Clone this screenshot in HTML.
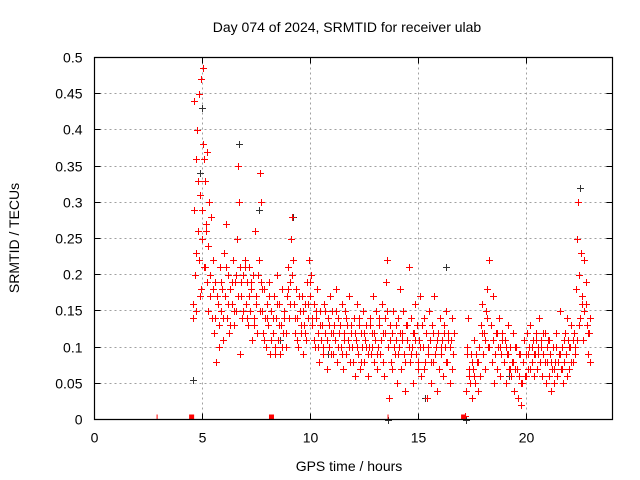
<!DOCTYPE html>
<html><head><meta charset="utf-8"><style>
html,body{margin:0;padding:0;background:#fff}
svg{display:block;font-family:"Liberation Sans",sans-serif}
</style></head><body>
<svg id="chart" width="640" height="480" xmlns="http://www.w3.org/2000/svg">
<text x="347" y="32" font-size="14" text-anchor="middle">Day 074 of 2024, SRMTID for receiver ulab</text>
<text x="349" y="471" font-size="14" text-anchor="middle">GPS time / hours</text>
<text transform="translate(19,238) rotate(-90)" font-size="14" text-anchor="middle">SRMTID / TECUs</text>
<g id="grid"></g>
<g id="blk"></g>
<g id="red"></g>
<g id="axes"></g>
<path d="M94.5 57.5H612.5V419.5H94.5Z" fill="none" stroke="#000" stroke-width="1.2"/>
</svg>
<script>
const xTicks=[0,5,10,15,20];
const yTicks=[0,0.05,0.1,0.15,0.2,0.25,0.3,0.35,0.4,0.45,0.5];
const yTickLabels=["0","0.05","0.1","0.15","0.2","0.25","0.3","0.35","0.4","0.45","0.5"];
const redHours=[4.55,4.6,4.62,4.65,4.7,4.72,4.75,4.8,4.82,4.85,4.9,4.92,4.95,5.0,5.02,5.05,5.08,5.1,5.12,5.15,5.2,5.22,5.25,5.3,5.35,5.4,5.45,5.5,5.55,5.6,5.65,5.7,5.75,5.8,5.85,5.9,5.95,6.0,6.05,6.1,6.15,6.2,6.25,6.3,6.35,6.4,6.45,6.5,6.55,6.6,6.65,6.7,6.72,6.75,6.8,6.85,6.9,6.95,7.0,7.05,7.1,7.15,7.2,7.25,7.3,7.35,7.4,7.45,7.5,7.55,7.6,7.65,7.7,7.72,7.75,7.8,7.85,7.9,7.95,8.0,8.05,8.1,8.15,8.2,8.25,8.3,8.35,8.4,8.45,8.5,8.55,8.6,8.65,8.7,8.75,8.8,8.85,8.9,8.95,9.0,9.05,9.1,9.15,9.2,9.25,9.3,9.35,9.4,9.45,9.5,9.55,9.6,9.65,9.7,9.75,9.8,9.85,9.9,9.95,10.0,10.05,10.1,10.15,10.2,10.25,10.3,10.35,10.4,10.45,10.5,10.55,10.6,10.65,10.7,10.75,10.8,10.85,10.9,10.95,11.0,11.05,11.1,11.15,11.2,11.25,11.3,11.35,11.4,11.45,11.5,11.55,11.6,11.65,11.7,11.75,11.8,11.85,11.9,11.95,12.0,12.05,12.1,12.15,12.2,12.25,12.3,12.35,12.4,12.45,12.5,12.55,12.6,12.65,12.7,12.75,12.8,12.85,12.9,12.95,13.0,13.05,13.1,13.15,13.2,13.25,13.3,13.35,13.4,13.45,13.5,13.55,13.6,13.65,13.7,13.75,13.8,13.85,13.9,13.95,14.0,14.05,14.1,14.15,14.2,14.25,14.3,14.35,14.4,14.45,14.5,14.55,14.6,14.65,14.7,14.75,14.8,14.85,14.9,14.95,15.0,15.05,15.1,15.15,15.2,15.25,15.3,15.35,15.4,15.45,15.5,15.55,15.6,15.65,15.7,15.75,15.8,15.85,15.9,15.95,16.0,16.05,16.1,16.15,16.2,16.25,16.3,16.35,16.4,16.45,16.5,16.55,16.6,16.65,17.15,17.2,17.25,17.3,17.35,17.4,17.45,17.5,17.55,17.6,17.65,17.7,17.75,17.8,17.85,17.9,17.95,18.0,18.05,18.1,18.15,18.2,18.25,18.3,18.35,18.4,18.45,18.5,18.55,18.6,18.65,18.7,18.75,18.8,18.85,18.9,18.95,19.0,19.05,19.1,19.15,19.2,19.25,19.3,19.35,19.4,19.45,19.5,19.55,19.6,19.65,19.7,19.75,19.8,19.85,19.9,19.95,20.0,20.05,20.1,20.15,20.2,20.25,20.3,20.35,20.4,20.45,20.5,20.55,20.6,20.65,20.7,20.75,20.8,20.85,20.9,20.95,21.0,21.05,21.1,21.15,21.2,21.25,21.3,21.35,21.4,21.45,21.5,21.55,21.6,21.65,21.7,21.75,21.8,21.85,21.9,21.95,22.0,22.05,22.1,22.15,22.2,22.25,22.3,22.35,22.4,22.45,22.5,22.55,22.6,22.65,22.7,22.75,22.8,22.85,22.9,22.95];
const redValues=[.16,.29,.44,.20,.36,.15,.40,.26,.45,.22,.31,.18,.47,.25,.38,.485,.36,.21,.33,.27,.19,.37,.24,.30,.17,.28,.14,.22,.12,.19,.08,.16,.13,.21,.15,.18,.11,.23,.17,.27,.14,.20,.12,.18,.16,.22,.13,.19,.15,.25,.35,.30,.21,.09,.17,.14,.20,.22,.16,.19,.13,.21,.15,.18,.11,.20,.14,.26,.17,.12,.22,.34,.30,.19,.15,.12,.18,.14,.10,.16,.13,.19,.09,.15,.12,.17,.10,.14,.20,.11,.16,.09,.13,.18,.12,.15,.10,.17,.21,.14,.19,.25,.28,.22,.16,.12,.18,.14,.10,.15,.12,.17,.09,.13,.16,.11,.19,.14,.22,.17,.20,.13,.16,.10,.14,.18,.12,.08,.15,.11,.13,.09,.16,.12,.07,.14,.10,.17,.12,.15,.09,.13,.11,.18,.08,.14,.12,.10,.16,.07,.12,.15,.09,.13,.11,.17,.08,.12,.10,.14,.06,.11,.16,.09,.13,.07,.12,.10,.15,.08,.11,.13,.06,.10,.14,.09,.12,.17,.08,.11,.15,.07,.10,.13,.09,.16,.12,.06,.14,.19,.22,.10,.03,.13,.08,.12,.15,.09,.11,.05,.14,.10,.18,.07,.12,.15,.09,.04,.13,.11,.21,.08,.14,.10,.05,.12,.16,.09,.13,.07,.11,.17,.06,.10,.14,.08,.12,.03,.09,.15,.11,.05,.13,.08,.17,.10,.04,.12,.07,.14,.09,.11,.06,.13,.10,.15,.08,.12,.05,.11,.14,.09,.12,.005,.04,.10,.14,.07,.05,.09,.03,.07,.11,.05,.08,.04,.10,.06,.13,.16,.09,.12,.07,.15,.18,.10,.22,.13,.08,.11,.05,.09,.12,.07,.10,.14,.06,.09,.12,.08,.11,.05,.09,.13,.07,.10,.06,.08,.12,.04,.07,.10,.03,.06,.09,.02,.05,.08,.11,.06,.09,.12,.07,.10,.13,.08,.11,.06,.09,.12,.07,.10,.14,.08,.11,.06,.09,.12,.05,.08,.11,.06,.09,.04,.07,.10,.05,.08,.12,.06,.09,.15,.07,.10,.05,.08,.12,.09,.14,.11,.07,.10,.13,.08,.12,.09,.18,.25,.30,.20,.14,.23,.17,.11,.15,.19,.13,.09,.12,.08];
const redHours2=[4.58,4.68,4.78,4.88,4.98,5.07,5.17,5.27,5.37,5.47,5.57,5.67,5.77,5.87,5.97,6.07,6.17,6.27,6.37,6.47,6.57,6.67,6.77,6.87,6.97,7.07,7.17,7.27,7.37,7.47,7.57,7.67,7.77,7.87,7.97,8.07,8.17,8.27,8.37,8.47,8.57,8.67,8.77,8.87,8.97,9.07,9.17,9.27,9.37,9.47,9.57,9.67,9.77,9.87,9.97,10.07,10.17,10.27,10.37,10.47,10.57,10.67,10.77,10.87,10.97,11.07,11.17,11.27,11.37,11.47,11.57,11.67,11.77,11.87,11.97,12.07,12.17,12.27,12.37,12.47,12.57,12.67,12.77,12.87,12.97,13.07,13.17,13.27,13.37,13.47,13.57,13.67,13.77,13.87,13.97,14.07,14.17,14.27,14.37,14.47,14.57,14.67,14.77,14.87,14.97,15.07,15.17,15.27,15.37,15.47,15.57,15.67,15.77,15.87,15.97,16.07,16.17,16.27,16.37,16.47,16.57,17.27,17.37,17.47,17.57,17.67,17.77,17.87,17.97,18.07,18.17,18.27,18.37,18.47,18.57,18.67,18.77,18.87,18.97,19.07,19.17,19.27,19.37,19.47,19.57,19.67,19.77,19.87,19.97,20.07,20.17,20.27,20.37,20.47,20.57,20.67,20.77,20.87,20.97,21.07,21.17,21.27,21.37,21.47,21.57,21.67,21.77,21.87,21.97,22.07,22.17,22.27,22.37,22.47,22.57,22.67,22.77,22.87,22.97];
const redValues2=[.14,.23,.33,.17,.29,.21,.26,.15,.20,.18,.14,.17,.10,.19,.14,.21,.16,.13,.19,.15,.20,.17,.19,.15,.21,.14,.17,.19,.13,.16,.20,.15,.18,.11,.14,.17,.11,.14,.09,.16,.13,.10,.14,.12,.18,.16,.20,.14,.11,.17,.13,.15,.12,.16,.19,.14,.11,.15,.10,.13,.10,.15,.11,.13,.09,.12,.15,.10,.13,.09,.11,.14,.10,.13,.08,.12,.10,.14,.08,.12,.10,.09,.13,.10,.12,.09,.14,.11,.08,.12,.15,.11,.07,.10,.13,.09,.12,.11,.08,.13,.10,.09,.12,.11,.08,.10,.13,.07,.12,.10,.08,.12,.09,.11,.07,.10,.12,.08,.11,.10,.07,.09,.06,.08,.06,.09,.08,.06,.12,.11,.14,.10,.13,.17,.09,.12,.10,.11,.08,.10,.09,.07,.08,.10,.07,.09,.05,.08,.06,.09,.07,.10,.09,.11,.09,.10,.12,.08,.10,.11,.08,.07,.10,.08,.09,.07,.11,.06,.10,.08,.11,.10,.11,.13,.16,.22,.16,.12,.14,.10,.11];
const blackHours=[4.55,4.9,5.0,6.7,7.6,9.2,13.6,16.3,22.5,17.2,12.3,15.3,8.6,10.8,19.2];
const blackValues=[.055,.34,.43,.38,.29,.28,0,.21,.32,0,.07,.03,.11,.09,.06];
const redMarkHours=[4.5,8.2,17.1];
const tickMarkHours=[2.9,13.6];

const NS="http://www.w3.org/2000/svg";
const X0=94.5,X1=612.5,Y0=419.5,Y1=57.5;
const xs=h=>X0+h*(X1-X0)/24;
const ys=v=>Y0-v*(Y0-Y1)/0.5;
function mk(t,a,p){const e=document.createElementNS(NS,t);for(const k in a)e.setAttribute(k,a[k]);p.appendChild(e);return e;}
const grid=document.getElementById('grid'),axes=document.getElementById('axes');
xTicks.forEach(h=>{
  const x=Math.round(xs(h)-0.5)+0.5;
  if(h>0){const g=mk('line',{x1:x,x2:x,y1:Y1,y2:Y0,stroke:'#a0a0a0','stroke-dasharray':'2,3'},grid);
  }
  mk('line',{x1:x,x2:x,y1:Y0,y2:Y0-6,stroke:'#000'},axes);mk('line',{x1:x,x2:x,y1:Y1,y2:Y1+6,stroke:'#000'},axes);
  const t=mk('text',{x:x,y:Y0+23,'font-size':14,'text-anchor':'middle'},axes);t.textContent=h;
  
});
yTicks.forEach((v,i)=>{
  const y=Math.round(ys(v)-0.5)+0.5;
  if(v>0&&v<0.5){const g=mk('line',{x1:X0,x2:X1,y1:y,y2:y,stroke:'#a0a0a0','stroke-dasharray':'2,3'},grid);
  }
  mk('line',{x1:X0,x2:X0+6,y1:y,y2:y,stroke:'#000'},axes);mk('line',{x1:X1,x2:X1-6,y1:y,y2:y,stroke:'#000'},axes);
  const t=mk('text',{x:X0-12,y:y+5,'font-size':14,'text-anchor':'end'},axes);t.textContent=yTickLabels[i];
  
});
function plus(g,h,v,c){
  const x=Math.round(xs(h))+0.5,y=Math.round(ys(v))+0.5;
  const p=mk('path',{d:`M${x-3.5} ${y}H${x+3.5}M${x} ${y-3.5}V${y+3.5}`,stroke:c,'stroke-width':1,fill:'none'},g);
  
  
}
const blk=document.getElementById('blk'),red=document.getElementById('red');
blackHours.forEach((h,i)=>plus(blk,h,blackValues[i],'#333'));
redHours.forEach((h,i)=>plus(red,h,redValues[i],'#f00'));
redHours2.forEach((h,i)=>plus(red,h,redValues2[i],'#f00'));
redMarkHours.forEach(h=>{const r=mk('rect',{x:xs(h)-2.5,y:Y0-5,width:5,height:5,fill:'#f00'},red);
});
tickMarkHours.forEach(h=>{const l=mk('line',{x1:xs(h),x2:xs(h),y1:Y0-5,y2:Y0,stroke:'#f00'},red);
});
</script>
</body></html>
